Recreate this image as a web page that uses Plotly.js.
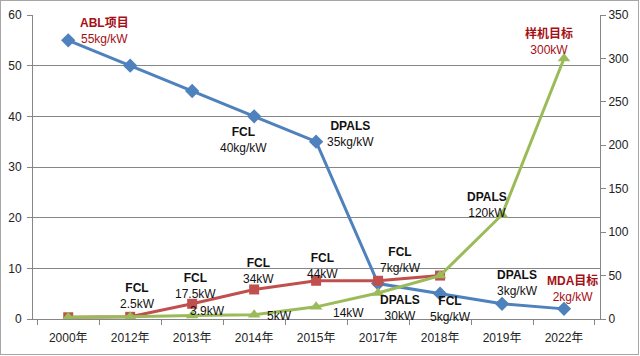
<!DOCTYPE html>
<html><head><meta charset="utf-8">
<script src="https://cdn.plot.ly/plotly-3.0.1.min.js"></script>
<style>
html,body{margin:0;padding:0;background:#fff;}
#wrap{position:relative;width:640px;height:356px;}
#chart{width:640px;height:356px;}
#frame{position:absolute;left:0;top:0;width:637px;height:353px;border:1px solid #a6a6a6;pointer-events:none;}
</style></head>
<body>
<div id="wrap"><div id="chart"></div><div id="frame"></div></div>
<script>
// categories
const years = ["2000年","2012年","2013年","2014年","2015年","2017年","2018年","2019年","2022年"];
// specific mass, kg/kW (left axis)
const massKgPerKw = [55,50,45,40,35,7,5,3,2];
// FCL power, kW (right axis)
const fclYears = ["2000年","2012年","2013年","2014年","2015年","2017年","2018年"];
const fclPowerKw = [2,2.5,17.5,34,44,44,50];
// DPALS / prototype power, kW (right axis)
const dpalsPowerKw = [2,2.5,3.9,5,14,30,50,120,300];

// labels: [series, point index, title, value text, red?]
const labelSeries = ["mass","mass","mass","fcl","fcl","dpals","fcl","dpals","fcl","dpals","mass","dpals","mass","dpals","mass","mass","dpals"];
const labelPoint  = [0,3,4,1,2,2,3,3,4,4,5,5,6,7,7,8,8];
const labelTitle  = ["ABL项目","FCL","DPALS","FCL","FCL","","FCL","","FCL","","FCL","DPALS","FCL","DPALS","DPALS","MDA目标","样机目标"];
const labelValue  = ["55kg/kW","40kg/kW","35kg/kW","2.5kW","17.5kW","3.9kW","34kW","5kW","44kW","14kW","7kg/kW","30kW","5kg/kW","120kW","3kg/kW","2kg/kW","300kW"];
const labelRed    = [true,false,false,false,false,false,false,false,false,false,false,false,false,false,false,true,true];
// pixel offsets of label blocks from their points
const labelDx = [36.5,-10.5,34,7.5,3.5,15.5,4.5,25.5,6.5,32.5,22.5,22,10.5,-15.5,15,8.5,-15];
const labelDy = [9.8,-23.7,7.7,20.8,18.3,4.6,18.5,-1.3,14.3,-6.2,23.5,-15,-15.8,9.8,20.8,20.4,16.9];

const FONT = "Liberation Sans, Noto Sans CJK SC, sans-serif";
const blue = "#4F81BD", red = "#C0504D", green = "#9BBB59", darkRed = "#A50F15";

const traces = [
  {x: years, y: massKgPerKw, type: "scatter", mode: "lines+markers", yaxis: "y",
   line: {color: blue, width: 3}, marker: {symbol: "diamond", size: 11, color: blue}},
  {x: fclYears, y: fclPowerKw, type: "scatter", mode: "lines+markers", yaxis: "y2",
   line: {color: red, width: 3}, marker: {symbol: "square", size: 10, color: red}},
  {x: years, y: dpalsPowerKw, type: "scatter", mode: "lines+markers", yaxis: "y2",
   line: {color: green, width: 3}, marker: {symbol: "triangle-up", size: 11, color: green}}
];

const annotations = labelSeries.map((s, i) => {
  const p = labelPoint[i];
  let xv, yv, yref;
  if (s === "mass") { xv = years[p]; yv = massKgPerKw[p]; yref = "y"; }
  else if (s === "fcl") { xv = fclYears[p]; yv = fclPowerKw[p]; yref = "y2"; }
  else { xv = years[p]; yv = dpalsPowerKw[p]; yref = "y2"; }
  const col = labelRed[i] ? darkRed : "#111";
  const text = labelTitle[i] ? "<b>" + labelTitle[i] + "</b><br>" + labelValue[i] : labelValue[i];
  return {x: xv, y: yv, xref: "x", yref: yref, text: text, showarrow: false,
          xshift: labelDx[i], yshift: labelDy[i], align: "center",
          font: {family: FONT, size: 12, color: col}};
});

const layout = {
  width: 640, height: 356,
  margin: {l: 33, r: 40, t: 15, b: 37, pad: 0},
  paper_bgcolor: "#fff", plot_bgcolor: "#fff",
  showlegend: false,
  font: {family: FONT, size: 12, color: "#222"},
  xaxis: {type: "category", categoryorder: "array", categoryarray: years,
          showline: true, linecolor: "#868686", linewidth: 1,
          ticks: "outside", tickson: "boundaries", ticklen: 5, tickcolor: "#868686",
          ticklabelstandoff: 8,
          showgrid: false, zeroline: false, fixedrange: true,
          tickfont: {family: FONT, size: 12, color: "#222"}},
  yaxis: {range: [0, 60], dtick: 10, showline: true, linecolor: "#868686",
          ticks: "outside", ticklen: 5, tickcolor: "#868686", ticklabelstandoff: 3,
          showgrid: true, gridcolor: "#868686", gridwidth: 1, zeroline: false,
          tickfont: {family: FONT, size: 12, color: "#222"}},
  yaxis2: {range: [0, 350], dtick: 50, overlaying: "y", side: "right",
           showline: true, linecolor: "#868686", ticks: "outside", ticklen: 5,
           tickcolor: "#868686", showgrid: false, zeroline: false,
           tickfont: {family: FONT, size: 12, color: "#222"}},
  annotations: annotations
};

Plotly.newPlot("chart", traces, layout, {displayModeBar: false, staticPlot: true});
</script>
</body></html>
